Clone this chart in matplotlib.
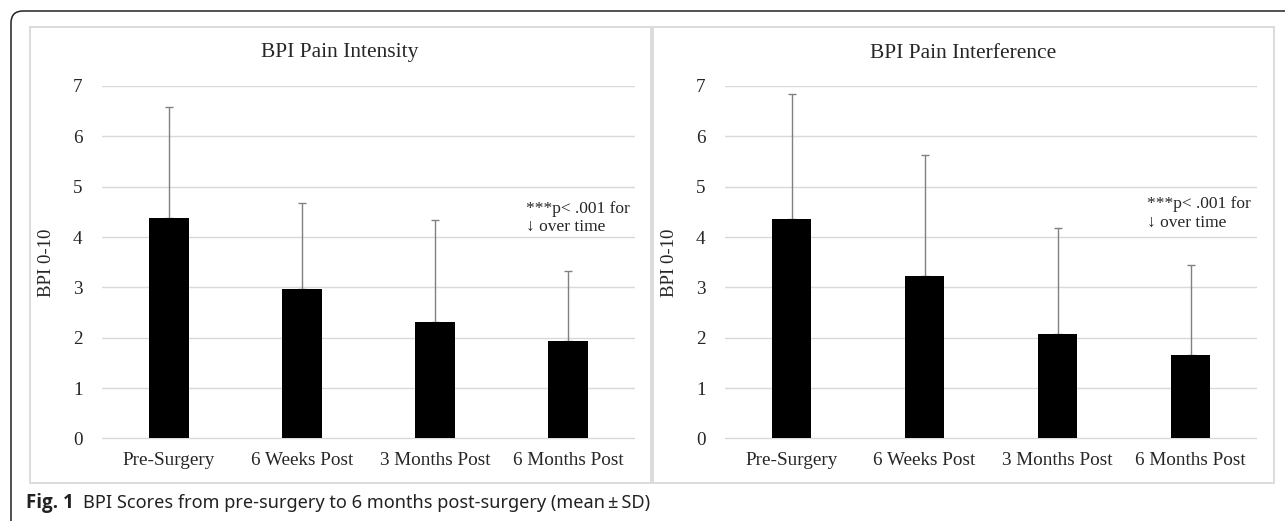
import matplotlib
matplotlib.use("Agg")
import numpy as np
from matplotlib import pyplot as plt
from matplotlib.patches import Rectangle, FancyBboxPatch
from matplotlib.transforms import IdentityTransform

# data (mean and SD, upper error bar only)
categories = ["Pre-Surgery", "6 Weeks Post", "3 Months Post", "6 Months Post"]
intensity_mean = [4.38, 2.96, 2.32, 1.94]
intensity_sd = [2.21, 1.71, 2.02, 1.39]
interference_mean = [4.36, 3.23, 2.08, 1.65]
interference_sd = [2.49, 2.39, 2.11, 1.80]

serif = ["Liberation Serif", "DejaVu Serif"]
W, H = 1285, 521

fig = plt.figure(figsize=(W / 100, H / 100), dpi=100)


def px(x0, y0, x1, y1):
    # pixel box (top-left origin) -> figure fraction [left, bottom, width, height]
    return [x0 / W, 1 - y1 / H, (x1 - x0) / W, (y1 - y0) / H]


# outer rounded frame, cut by the image edges
frame = FancyBboxPatch((11, -40), 1400, H - 11 + 40, boxstyle="round,pad=0,rounding_size=12",
                       transform=IdentityTransform(), fill=False, ec="#222222", lw=1.1)
fig.patches.append(frame)

# panel borders
for x0, x1 in [(30, 651), (653, 1274)]:
    fig.patches.append(Rectangle((x0 / W, 1 - 483 / H), (x1 - x0) / W, (483 - 27) / H,
                                 transform=fig.transFigure, fill=False, ec="#d9d9d9", lw=1.3))


def panel(ax, means, sds, title, title_x, note_xy):
    x = np.arange(len(categories))
    ax.bar(x, means, width=0.30, color="black", zorder=3)
    ax.errorbar(x, means, yerr=[np.zeros(len(sds)), sds], fmt="none", ecolor="#808080",
                elinewidth=1, capsize=3, capthick=1, zorder=2)
    ax.set_xlim(-0.5, 3.5)
    ax.set_ylim(-0.02, 7)
    ax.set_yticks(range(8))
    ax.set_xticks(x)
    ax.set_xticklabels(categories, family=serif, fontsize=13.8, color="#262626")
    for lab in ax.get_yticklabels():
        lab.set_family(serif)
        lab.set_fontsize(13.8)
        lab.set_color("#262626")
    ax.tick_params(length=0)
    ax.tick_params(axis="y", pad=14)
    ax.tick_params(axis="x", pad=9)
    ax.grid(axis="y", color="#d9d9d9", lw=1, zorder=0)
    ax.set_axisbelow(True)
    for s in ax.spines.values():
        s.set_visible(False)
    ax.set_ylabel("BPI 0-10", family=serif, fontsize=13.5, color="#262626")
    ax.yaxis.set_label_coords(-0.089, 0.5)
    fig.text(title_x / W, 1 - 53 / H, title, family=serif, fontsize=15.5, color="#262626",
             ha="center", va="center")
    ax.text(note_xy[0], note_xy[1], "***p< .001 for\n\u2193 over time", family=serif,
            fontsize=12.5, color="#262626", ha="left", va="center", linespacing=1.2)


ax1 = fig.add_axes(px(102, 86, 635, 439.5))
panel(ax1, intensity_mean, intensity_sd, "BPI Pain Intensity", 340, (2.68, 4.38))
ax2 = fig.add_axes(px(725, 86, 1257, 439.5))
panel(ax2, interference_mean, interference_sd, "BPI Pain Interference", 963, (2.67, 4.47))

# caption
t1 = fig.text(26 / W, 1 - 503 / H, "Fig. 1", family=["Open Sans", "DejaVu Sans"],
              fontweight="bold", fontsize=13.5, color="#222222", va="center")
ax1.annotate("BPI Scores from pre-surgery to 6 months post-surgery (mean\u2009\u00b1\u2009SD)",
             xy=(1, 0.5), xycoords=t1, xytext=(7, 0), textcoords="offset points",
             family=["Noto Sans", "DejaVu Sans"], fontsize=13.1, color="#222222",
             va="center", ha="left", annotation_clip=False)

plt.savefig("out.png", dpi=100)
